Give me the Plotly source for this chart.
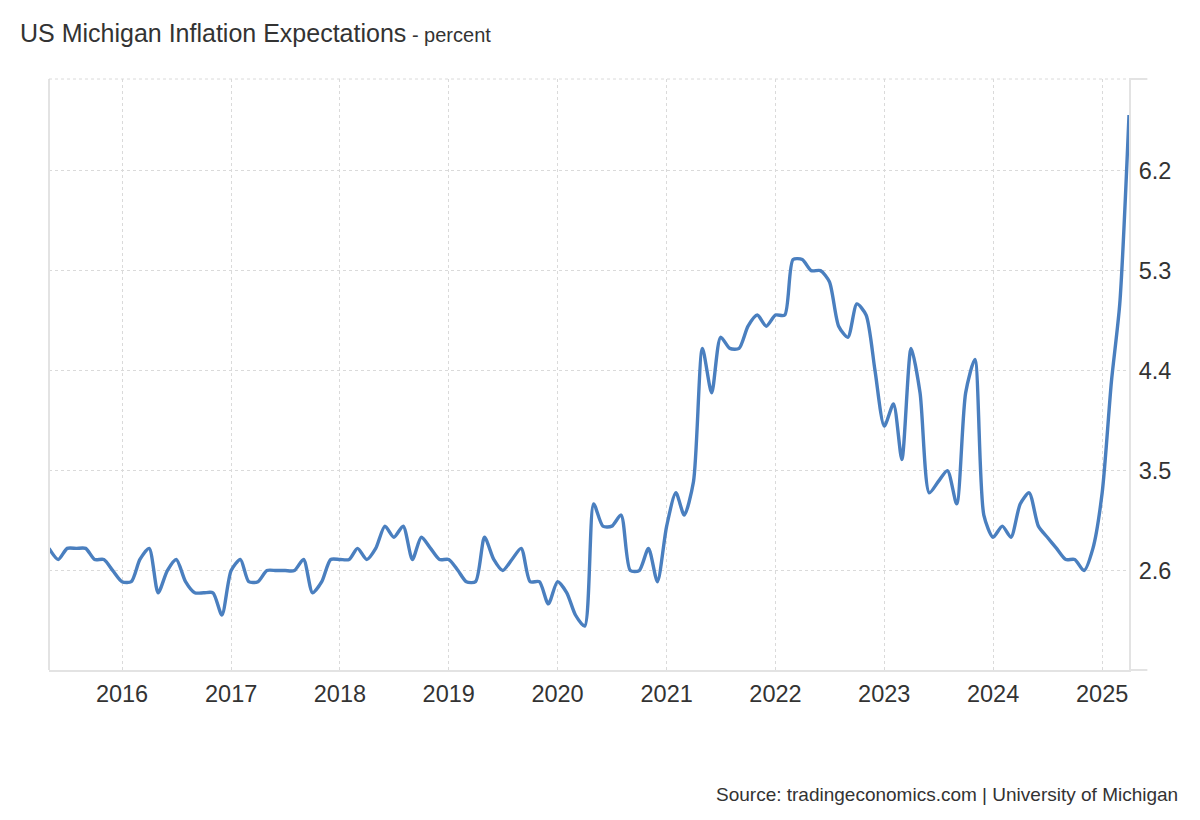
import pandas as pd
import plotly.graph_objects as go

# monthly readings, May 2015 .. Apr 2025
start_month = "2015-05-01"
values = [
    2.8, 2.7, 2.8, 2.8, 2.8, 2.7, 2.7, 2.6,                          # 2015
    2.5, 2.5, 2.7, 2.8, 2.4, 2.6, 2.7, 2.5, 2.4, 2.4, 2.4, 2.2,      # 2016
    2.6, 2.7, 2.5, 2.5, 2.6, 2.6, 2.6, 2.6, 2.7, 2.4, 2.5, 2.7,      # 2017
    2.7, 2.7, 2.8, 2.7, 2.8, 3.0, 2.9, 3.0, 2.7, 2.9, 2.8, 2.7,      # 2018
    2.7, 2.6, 2.5, 2.5, 2.9, 2.7, 2.6, 2.7, 2.8, 2.5, 2.5, 2.3,      # 2019
    2.5, 2.4, 2.2, 2.1, 3.2, 3.0, 3.0, 3.1, 2.6, 2.6, 2.8, 2.5,      # 2020
    3.0, 3.3, 3.1, 3.4, 4.6, 4.2, 4.7, 4.6, 4.6, 4.8, 4.9, 4.8,      # 2021
    4.9, 4.9, 5.4, 5.4, 5.3, 5.3, 5.2, 4.8, 4.7, 5.0, 4.9, 4.4,      # 2022
    3.9, 4.1, 3.6, 4.6, 4.2, 3.3, 3.4, 3.5, 3.2, 4.2, 4.5, 3.1,      # 2023
    2.9, 3.0, 2.9, 3.2, 3.3, 3.0, 2.9, 2.8, 2.7, 2.7, 2.6, 2.8,      # 2024
    3.3, 4.3, 5.0, 6.7,                                              # 2025
]
dates = pd.date_range(start_month, periods=len(values), freq="MS")

y_ticks = [2.6, 3.5, 4.4, 5.3, 6.2]
year_labels = [str(y) for y in range(2016, 2026)]
year_ticks = [f"{y}-01-01" for y in year_labels]

grid = "#dadada"
axis_line = "#e3e3e3"
txt = "#333333"
font = "Liberation Sans, Arial, sans-serif"

fig = go.Figure()
fig.add_trace(go.Scatter(
    x=dates, y=values,
    mode="lines",
    line=dict(color="#4a7fbf", width=3.4, shape="spline", smoothing=0.7),
    hoverinfo="x+y",
    showlegend=False))

fig.update_xaxes(
    range=[dates[0], dates[-1]],
    tickvals=year_ticks, ticktext=year_labels,
    showgrid=True, gridcolor=grid, griddash="dot", gridwidth=1,
    showline=True, linecolor=axis_line, linewidth=2,
    ticks="", ticklabelstandoff=2,
    tickfont=dict(size=23.5, color=txt, family=font),
    zeroline=False)
fig.update_yaxes(
    range=[1.705, 7.025], side="right",
    tickvals=y_ticks, ticktext=[f"{v:.1f}" for v in y_ticks],
    showgrid=True, gridcolor=grid, griddash="dot", gridwidth=1,
    showline=True, linecolor=axis_line, linewidth=2,
    ticks="", ticklabelstandoff=3,
    tickfont=dict(size=23.5, color=txt, family=font),
    zeroline=False)

# left border, dotted top border and the little right-hand stubs
fig.add_shape(type="line", xref="paper", yref="paper", x0=0, x1=0, y0=0, y1=1,
              line=dict(color=axis_line, width=2))
fig.add_shape(type="line", xref="paper", yref="paper", x0=0, x1=1, y0=1, y1=1,
              line=dict(color=grid, width=1, dash="dot"))
fig.add_shape(type="line", xref="paper", yref="paper", x0=1, x1=1.017, y0=1, y1=1,
              line=dict(color=axis_line, width=2))
fig.add_shape(type="line", xref="paper", yref="paper", x0=1, x1=1.017, y0=0, y1=0,
              line=dict(color=axis_line, width=2))

fig.add_annotation(
    text="US Michigan Inflation Expectations<span style='font-size:20px'> - percent</span>",
    xref="paper", yref="paper", x=-0.0288, y=1.078, xanchor="left", yanchor="middle",
    showarrow=False, font=dict(size=25, color=txt, family=font))
fig.add_annotation(
    text="Source: tradingeconomics.com | University of Michigan",
    xref="paper", yref="paper", x=1.0472, y=-0.2115, xanchor="right", yanchor="middle",
    showarrow=False, font=dict(size=19, color=txt, family=font))

# page body adds 8px around the figure, so the figure is 16px smaller
fig.update_layout(
    width=1184, height=804,
    margin=dict(l=41, r=63, t=71, b=142),
    plot_bgcolor="white", paper_bgcolor="white",
    font=dict(family=font, color=txt))

fig.write_html("out.html")
